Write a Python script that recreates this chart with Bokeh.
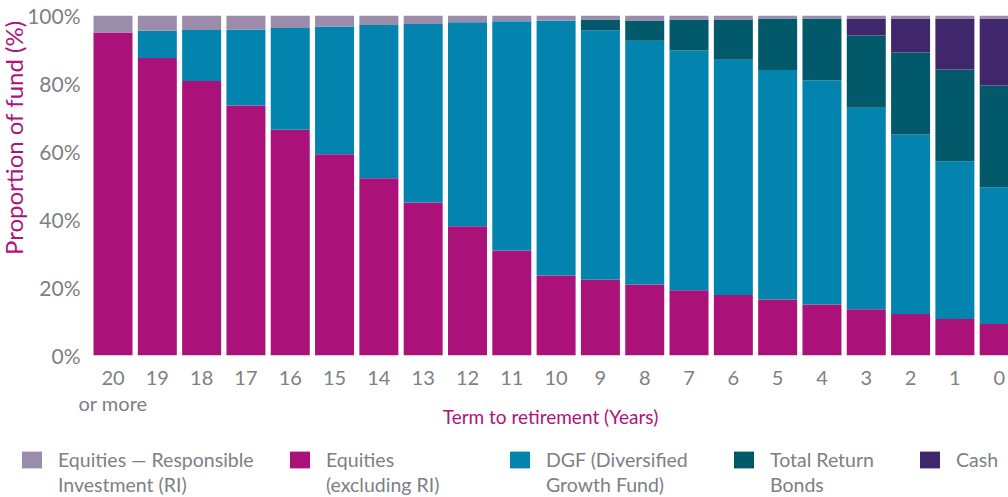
from bokeh.plotting import figure
from bokeh.models import (Range1d, FixedTicker, Legend, LegendItem, Title,
                          ColumnDataSource)
from bokeh.embed import file_html
from bokeh.resources import INLINE

# ---- data ----
years = ["20\nor more", "19", "18", "17", "16", "15", "14", "13", "12", "11",
         "10", "9", "8", "7", "6", "5", "4", "3", "2", "1", "0"]
equities = [95.0, 87.5, 80.7, 73.5, 66.4, 59.2, 52.1, 45.0, 38.0, 30.9,
            23.5, 22.3, 20.9, 19.2, 17.8, 16.5, 15.0, 13.6, 12.2, 10.7, 9.3]
dgf = [0.0, 8.0, 15.0, 22.4, 29.9, 37.6, 45.1, 52.5, 60.0, 67.4,
       75.0, 73.3, 71.7, 70.5, 69.2, 67.5, 65.9, 59.3, 52.8, 46.4, 40.2]
total_return_bonds = [0, 0, 0, 0, 0, 0, 0, 0, 0, 0,
                      0, 3.2, 5.9, 9.1, 11.8, 15.1, 18.2, 21.2, 24.1, 27.0, 29.9]
cash = [0, 0, 0, 0, 0, 0, 0, 0, 0, 0,
        0, 0, 0, 0, 0, 0, 0, 5.0, 10.0, 15.0, 19.7]
equities_ri = [5.0, 4.5, 4.3, 4.1, 3.7, 3.2, 2.8, 2.5, 2.0, 1.7,
               1.5, 1.2, 1.5, 1.2, 1.2, 0.9, 0.9, 0.9, 0.9, 0.9, 0.9]
y_ticks = [0, 20, 40, 60, 80, 100]
y_tick_labels = ["0%", "20%", "40%", "60%", "80%", "100%"]

legend_keys = ["ri", "eq", "dgf", "trb", "cash"]
legend_line1 = {"ri": "Equities \u2014 Responsible", "eq": "Equities",
                "dgf": "DGF (Diversified", "trb": "Total Return", "cash": "Cash"}
legend_line2 = {"ri": "Investment (RI)", "eq": "(excluding RI)",
                "dgf": "Growth Fund)", "trb": "Bonds", "cash": ""}
colors = {"eq": "#ab1279", "dgf": "#0284ae", "trb": "#02596a",
          "cash": "#40266a", "ri": "#9c8cab"}

FONT = "Lato"
GREY = "#7d8084"
MAGENTA = "#b0127d"

xs = list(range(len(years)))
source = ColumnDataSource(dict(x=xs, eq=equities, dgf=dgf, trb=total_return_bonds,
                               cash=cash, ri=equities_ri))
stack = ["eq", "dgf", "trb", "cash", "ri"]

p = figure(width=1008, height=440, output_backend="svg", toolbar_location=None,
           x_range=Range1d(-0.463, 20.21), y_range=Range1d(0, 100))
p.min_border_left = 92
p.min_border_right = 0
p.min_border_top = 15
p.min_border_bottom = 85
p.outline_line_color = None
p.grid.visible = False

p.vbar_stack(stack, x="x", width=0.88, source=source,
             color=[colors[s] for s in stack], line_width=0)

# y axis
p.yaxis.ticker = FixedTicker(ticks=y_ticks)
p.yaxis.major_label_overrides = {t: l for t, l in zip(y_ticks, y_tick_labels)}
p.yaxis.axis_line_color = None
p.yaxis.major_tick_line_color = None
p.yaxis.minor_tick_line_color = None
p.yaxis.major_tick_out = 0
p.yaxis.minor_tick_out = 0
p.yaxis.major_label_text_font = FONT
p.yaxis.major_label_text_font_size = "21px"
p.yaxis.major_label_text_color = GREY
p.yaxis.major_label_standoff = 12

ytitle = Title(text="Proportion of fund (%)", align="right", offset=5,
               text_font=FONT, text_font_size="24px", text_font_style="normal",
               text_color=MAGENTA, standoff=-7)
p.add_layout(ytitle, "left")

# x axis
p.xaxis.ticker = FixedTicker(ticks=xs)
p.xaxis.major_label_overrides = {i: l for i, l in zip(xs, years)}
p.xaxis.axis_line_color = None
p.xaxis.major_tick_line_color = None
p.xaxis.minor_tick_line_color = None
p.xaxis.major_tick_out = 0
p.xaxis.minor_tick_out = 0
p.xaxis.major_label_text_font = FONT
p.xaxis.major_label_text_font_size = "20px"
p.xaxis.major_label_text_line_height = 1.1
p.xaxis.major_label_text_color = GREY
p.xaxis.major_label_standoff = 9
p.xaxis.axis_label = "Term to retirement (Years)"
p.xaxis.axis_label_text_font = FONT
p.xaxis.axis_label_text_font_style = "normal"
p.xaxis.axis_label_text_font_size = "19px"
p.xaxis.axis_label_text_color = MAGENTA
p.xaxis.axis_label_standoff = -13

# legend figure (separate root, below the chart)
lf = figure(width=1008, height=57, output_backend="svg", toolbar_location=None,
            x_range=Range1d(0, 1), y_range=Range1d(1000, 1001),
            x_axis_type=None, y_axis_type=None)
lf.min_border_left = 0
lf.min_border_right = 0
lf.min_border_top = 0
lf.min_border_bottom = 0
lf.outline_line_color = None
lf.grid.visible = False
lrs = lf.vbar_stack(stack, x="x", width=0.88, source=source,
                    color=[colors[s] for s in stack], line_width=0)
lmap = dict(zip(stack, lrs))
blank = lf.vbar(x="x", top="eq", width=0.88, source=source,
                fill_alpha=0, line_alpha=0)

leg_x = {"ri": 19, "eq": 287, "dgf": 507, "trb": 731, "cash": 917}


def make_legend(label, renderer, x, y):
    return Legend(items=[LegendItem(label=label, renderers=[renderer])],
                  location=(x, y), orientation="vertical",
                  padding=0, margin=0, border_line_alpha=0, background_fill_alpha=0,
                  glyph_width=25, glyph_height=21, label_standoff=14,
                  label_text_font=FONT, label_text_font_size="19.5px",
                  label_text_color=GREY, label_text_baseline="middle")


for key in legend_keys:
    lf.add_layout(make_legend(legend_line1[key], lmap[key], leg_x[key], 26))
    if legend_line2[key]:
        lf.add_layout(make_legend(legend_line2[key], blank, leg_x[key], 1))

open("out.html", "w").write(file_html([p, lf], INLINE))
